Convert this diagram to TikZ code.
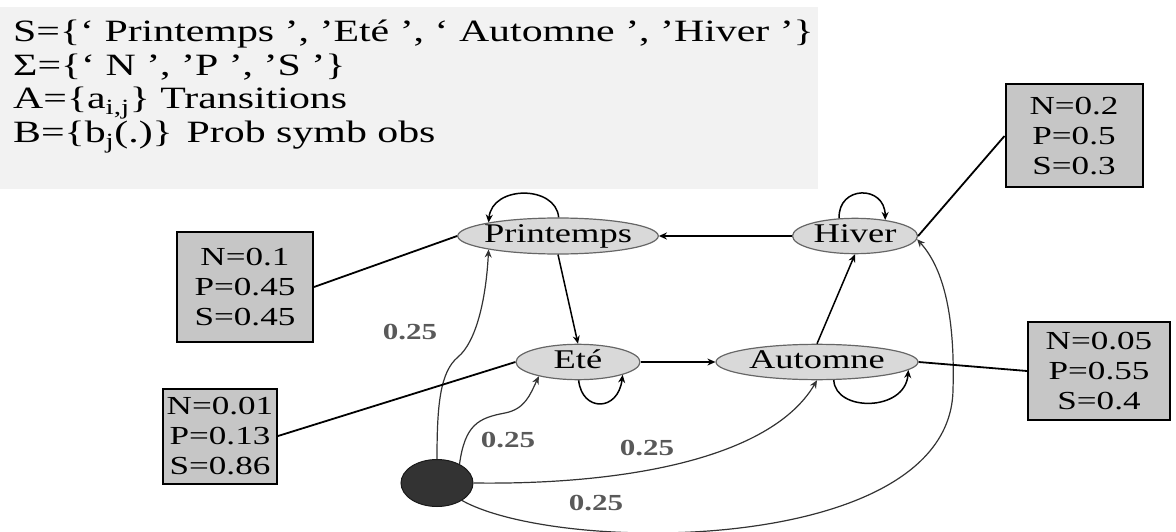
\documentclass[tikz,border=0pt]{standalone}
\usepackage{fontspec}
\setmainfont[FakeStretch=1.35]{Liberation Serif}
\usetikzlibrary{shapes.geometric,arrows.meta}
\definecolor{panneau}{HTML}{F2F2F2}
\definecolor{etat}{HTML}{D9D9D9}
\definecolor{obs}{HTML}{C6C6C6}
\definecolor{poids}{HTML}{595959}
\begin{document}
\begin{tikzpicture}[x=1pt,y=-1pt,
    etatnode/.style={ellipse, draw=black!60, fill=etat, line width=1.2pt, inner xsep=-3pt, inner ysep=0pt,
        text height=19pt, text depth=6pt, font=\fontsize{27}{30}\selectfont},
    obsbox/.style={rectangle, draw=black, fill=obs, line width=2pt, inner sep=0pt, align=center,
        font=\fontsize{26}{30}\selectfont},
    ligne/.style={anchor=base west, inner sep=0pt, font=\fontsize{31}{34}\selectfont},
    poidsnode/.style={text=poids, inner sep=0pt, font=\bfseries\fontsize{23}{25}\selectfont},
    fl/.style={-{Stealth[length=8pt,width=7pt]}, line width=1.5pt},
    fli/.style={-{Stealth[length=8pt,width=7pt]}, line width=1.2pt, draw=black!80},
    lien/.style={line width=1.8pt}]
    \useasboundingbox (0,0) rectangle (1176,532);
    \fill[panneau] (0,7) rectangle (818,189);
    \node[ligne] (s1) at (13,42) {S=\{‘ Printemps ’, ’Eté ’, ‘ Automne ’, ’Hiver ’\}};
    \node[ligne] (s2) at (13,76) {Σ=\{‘ N ’, ’P ’, ’S ’\}};
    \node[ligne] (s3) at (13,109) {A=\{a\textsubscript{i,j}\} Transitions};
    \node[ligne] (s4) at (13,143) {B=\{b\textsubscript{j}(.)\} Prob symb obs};
    % etats
    \node[etatnode, minimum width=200pt, minimum height=36pt] (P) at (558,236) {Printemps};
    \node[etatnode, minimum width=125pt, minimum height=34pt] (H) at (855,236) {Hiver};
    \node[etatnode, minimum width=124pt, minimum height=34pt] (E) at (578,362) {Eté};
    \node[etatnode, minimum width=202pt, minimum height=34pt] (A) at (817,362) {Automne};
    \node[ellipse, fill=black!80, draw=black!90, line width=1pt, minimum width=72pt, minimum height=47pt, inner sep=0pt] (init) at (437,483) {};
    % observations
    \node[obsbox, minimum width=136pt, minimum height=110pt] (bP) at (245,287) {N=0.1\\P=0.45\\S=0.45};
    \node[obsbox, minimum width=114pt, minimum height=95pt] (bE) at (220,436) {N=0.01\\P=0.13\\S=0.86};
    \node[obsbox, minimum width=137pt, minimum height=103pt] (bH) at (1074,136) {N=0.2\\P=0.5\\S=0.3};
    \node[obsbox, minimum width=142pt, minimum height=98pt] (bA) at (1099,371) {N=0.05\\P=0.55\\S=0.4};
    % poids initiaux
    \node[poidsnode] (w1) at (410,332) {0.25};
    \node[poidsnode] (w2) at (508,440) {0.25};
    \node[poidsnode] (w3) at (647,448) {0.25};
    \node[poidsnode] (w4) at (596,503) {0.25};
    % transitions
    \draw[fl] (P.88) .. controls (556,185) and (492,185) .. (P.169);
    \draw[fl] (H.132) .. controls (838,185) and (885,185) .. (H.28);
    \draw[fl] (E.-88) .. controls (582,412) and (618,412) .. (E.-16);
    \draw[fl] (A.-47) .. controls (835,412) and (905,412) .. (A.-5);
    \draw[fl] (H.west) -- (P.east);
    \draw[fl] (P.south) -- (E.north);
    \draw[fl] (E.east) -- (A.west);
    \draw[fl] (A.north) -- (H.south);
    \draw[fli] (init.north) .. controls (437,405) and (440,372) .. (458,357) .. controls (476,342) and (486,300) .. (P.-169);
    \draw[fli] (init.40) .. controls (465,425) and (478,418) .. (505,413) .. controls (525,409) and (530,395) .. (E.-160);
    \draw[fli] (init.east) .. controls (620,485) and (770,460) .. (A.south);
    \draw[fli] (init.-35) .. controls (560,555) and (950,555) .. (953,390) .. controls (955,320) and (945,270) .. (H.-3);
    % liens vers les observations
    \draw[lien] (bP.east) -- (P.west);
    \draw[lien] (bE.east) -- (E.west);
    \draw[lien] (bH.west) -- (H.east);
    \draw[lien] (bA.west) -- (A.east);
\end{tikzpicture}
\end{document}
